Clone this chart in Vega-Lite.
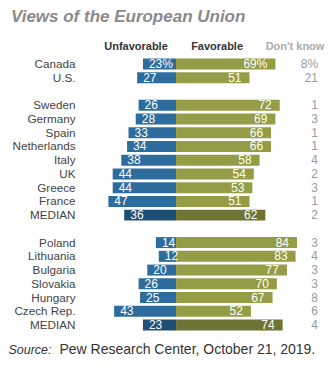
{
  "$schema": "https://vega.github.io/schema/vega-lite/v6.json",
  "autosize": {"type": "none"},
  "width": 250,
  "height": 288.5,
  "padding": {"left": 80, "top": 43.4, "right": 5, "bottom": 42},
  "background": "white",
  "title": {
    "text": "Views of the European Union",
    "anchor": "start",
    "frame": "group",
    "dx": -69,
    "offset": 15,
    "font": "Liberation Sans",
    "fontSize": 17,
    "fontStyle": "italic",
    "fontWeight": "bold",
    "color": "#8a8a8a"
  },
  "config": {"view": {"stroke": null}, "font": "Liberation Sans"},
  "data": {
    "values": [
      {"country": "Canada", "unfav": 23, "fav": 69, "dk": 8, "ulab": "23%", "flab": "69%", "dlab": "8%", "median": false},
      {"country": "U.S.", "unfav": 27, "fav": 51, "dk": 21, "ulab": "27", "flab": "51", "dlab": "21", "median": false},
      {"country": "Sweden", "unfav": 26, "fav": 72, "dk": 1, "ulab": "26", "flab": "72", "dlab": "1", "median": false},
      {"country": "Germany", "unfav": 28, "fav": 69, "dk": 3, "ulab": "28", "flab": "69", "dlab": "3", "median": false},
      {"country": "Spain", "unfav": 33, "fav": 66, "dk": 1, "ulab": "33", "flab": "66", "dlab": "1", "median": false},
      {"country": "Netherlands", "unfav": 34, "fav": 66, "dk": 1, "ulab": "34", "flab": "66", "dlab": "1", "median": false},
      {"country": "Italy", "unfav": 38, "fav": 58, "dk": 4, "ulab": "38", "flab": "58", "dlab": "4", "median": false},
      {"country": "UK", "unfav": 44, "fav": 54, "dk": 2, "ulab": "44", "flab": "54", "dlab": "2", "median": false},
      {"country": "Greece", "unfav": 44, "fav": 53, "dk": 3, "ulab": "44", "flab": "53", "dlab": "3", "median": false},
      {"country": "France", "unfav": 47, "fav": 51, "dk": 1, "ulab": "47", "flab": "51", "dlab": "1", "median": false},
      {"country": "MEDIAN", "unfav": 36, "fav": 62, "dk": 2, "ulab": "36", "flab": "62", "dlab": "2", "median": true},
      {"country": "Poland", "unfav": 14, "fav": 84, "dk": 3, "ulab": "14", "flab": "84", "dlab": "3", "median": false},
      {"country": "Lithuania", "unfav": 12, "fav": 83, "dk": 4, "ulab": "12", "flab": "83", "dlab": "4", "median": false},
      {"country": "Bulgaria", "unfav": 20, "fav": 77, "dk": 3, "ulab": "20", "flab": "77", "dlab": "3", "median": false},
      {"country": "Slovakia", "unfav": 26, "fav": 70, "dk": 3, "ulab": "26", "flab": "70", "dlab": "3", "median": false},
      {"country": "Hungary", "unfav": 25, "fav": 67, "dk": 8, "ulab": "25", "flab": "67", "dlab": "8", "median": false},
      {"country": "Czech Rep.", "unfav": 43, "fav": 52, "dk": 6, "ulab": "43", "flab": "52", "dlab": "6", "median": false},
      {"country": "MEDIAN ", "unfav": 23, "fav": 74, "dk": 4, "ulab": "23", "flab": "74", "dlab": "4", "median": true}
    ]
  },
  "transform": [{"calculate": "-datum.unfav", "as": "unfav_neg"}],
  "layer": [
    {
      "mark": {"type": "bar"},
      "encoding": {
        "y": {
          "field": "country",
          "type": "nominal",
          "sort": null,
          "scale": {
            "domain": ["hdr", "Canada", "U.S.", "sp1", "Sweden", "Germany", "Spain", "Netherlands", "Italy", "UK", "Greece", "France", "MEDIAN", "sp2", "Poland", "Lithuania", "Bulgaria", "Slovakia", "Hungary", "Czech Rep.", "MEDIAN "],
            "paddingInner": 0.2
          },
          "axis": {
            "title": "Source:",
            "titleAngle": 0,
            "titleX": -72,
            "titleY": 310.6,
            "titleAlign": "left",
            "titleBaseline": "alphabetic",
            "titleFont": "Liberation Sans",
            "titleFontStyle": "italic",
            "titleFontWeight": "normal",
            "titleFontSize": 12.5,
            "titleColor": "#333333",
            "domain": false,
            "ticks": false,
            "grid": false,
            "labelPadding": 5,
            "labelFontSize": 11.7,
            "labelColor": "#444444",
            "labelFont": "Liberation Sans",
            "labelExpr": "indexof(['hdr','sp1','sp2'], datum.value) >= 0 ? '' : datum.value"
          }
        },
        "x": {
          "field": "unfav_neg",
          "type": "quantitative",
          "scale": {"domain": [-66.7, 106.9], "nice": false, "zero": false},
          "axis": {
            "title": "Pew Research Center, October 21, 2019.",
            "titleX": -21,
            "titleY": 22,
            "titleAlign": "left",
            "titleAnchor": "start",
            "titleBaseline": "alphabetic",
            "titleFont": "Liberation Sans",
            "titleFontWeight": "normal",
            "titleFontSize": 14,
            "titleColor": "#333333",
            "labels": false,
            "ticks": false,
            "domain": false,
            "grid": false
          }
        },
        "color": {"condition": {"test": "datum.median", "value": "#1f4f74"}, "value": "#2e6c9d"}
      }
    },
    {
      "mark": {"type": "bar"},
      "encoding": {
        "y": {"field": "country", "type": "nominal"},
        "x": {"field": "fav", "type": "quantitative"},
        "color": {"condition": {"test": "datum.median", "value": "#6d7434"}, "value": "#949c45"}
      }
    },
    {
      "mark": {"type": "text", "align": "left", "baseline": "middle", "dx": 6, "fontSize": 12, "color": "white", "font": "Liberation Sans"},
      "encoding": {
        "y": {"field": "country", "type": "nominal"},
        "x": {"field": "unfav_neg", "type": "quantitative"},
        "text": {"field": "ulab"}
      }
    },
    {
      "mark": {"type": "text", "align": "right", "baseline": "middle", "dx": -8, "fontSize": 12, "color": "white", "font": "Liberation Sans"},
      "encoding": {
        "y": {"field": "country", "type": "nominal"},
        "x": {"field": "fav", "type": "quantitative"},
        "text": {"field": "flab"}
      }
    },
    {
      "mark": {"type": "text", "align": "right", "baseline": "middle", "fontSize": 12, "color": "#9a9a9a", "font": "Liberation Sans"},
      "encoding": {
        "y": {"field": "country", "type": "nominal"},
        "x": {"datum": 98.6, "type": "quantitative"},
        "text": {"field": "dlab"}
      }
    },
    {
      "data": {"values": [{"h": "Unfavorable"}]},
      "mark": {"type": "text", "align": "center", "baseline": "middle", "dy": -3, "fontSize": 11, "fontWeight": "bold", "color": "#333333", "font": "Liberation Sans"},
      "encoding": {
        "y": {"datum": "hdr", "type": "nominal"},
        "x": {"datum": -27.8, "type": "quantitative"},
        "text": {"field": "h"}
      }
    },
    {
      "data": {"values": [{"h": "Favorable"}]},
      "mark": {"type": "text", "align": "center", "baseline": "middle", "dy": -3, "fontSize": 11, "fontWeight": "bold", "color": "#333333", "font": "Liberation Sans"},
      "encoding": {
        "y": {"datum": "hdr", "type": "nominal"},
        "x": {"datum": 28.5, "type": "quantitative"},
        "text": {"field": "h"}
      }
    },
    {
      "data": {"values": [{"h": "Don't know"}]},
      "mark": {"type": "text", "align": "center", "baseline": "middle", "dy": -3, "fontSize": 11, "fontWeight": "bold", "color": "#aaaaaa", "font": "Liberation Sans"},
      "encoding": {
        "y": {"datum": "hdr", "type": "nominal"},
        "x": {"datum": 82.6, "type": "quantitative"},
        "text": {"field": "h"}
      }
    }
  ]
}
